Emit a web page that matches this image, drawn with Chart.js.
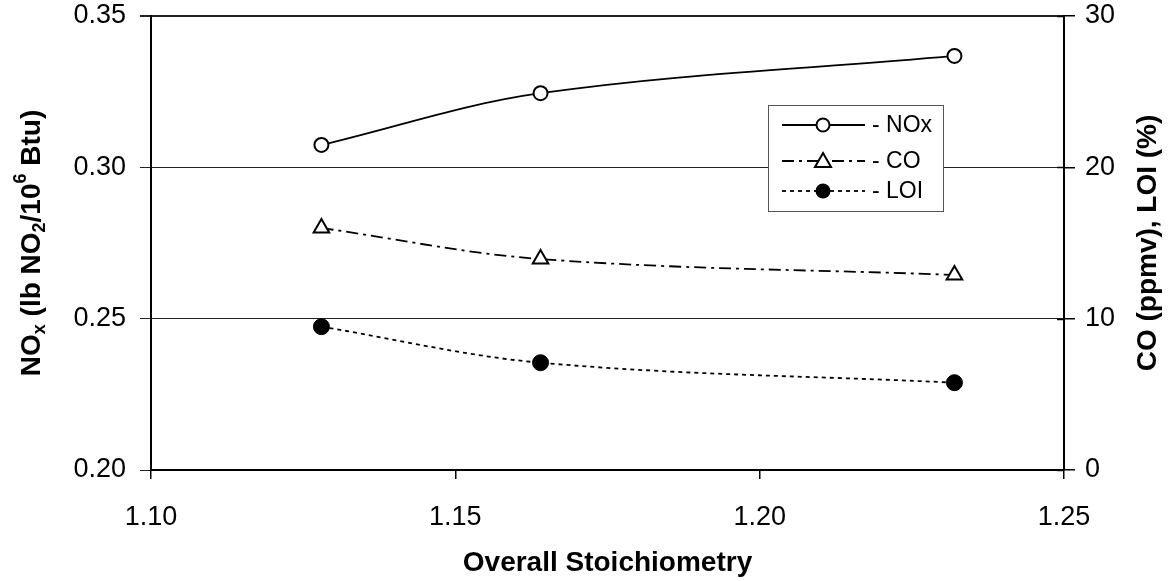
<!DOCTYPE html>
<html>
<head>
<meta charset="utf-8">
<script src="https://cdn.jsdelivr.net/npm/chart.js@4/dist/chart.umd.min.js"></script>
<style>
  html, body { margin: 0; padding: 0; background: #fff; }
  #wrap { width: 1172px; height: 581px; }
</style>
</head>
<body>
<div id="wrap"><canvas id="c" width="1172" height="581"></canvas></div>
<script>
// Overall stoichiometry at each test condition
const stoich = [1.128, 1.164, 1.232];
// NOx emissions, lb NO2 / 10^6 Btu (left axis)
const noxValues = [0.3074, 0.3245, 0.3368];
// CO, ppmv (right axis)
const coValues = [15.99, 13.94, 12.89];
// Loss on ignition, % (right axis)
const loiValues = [9.47, 7.09, 5.77];

const xTicks = [1.10, 1.15, 1.20, 1.25];
const leftTicks = [0.20, 0.25, 0.30, 0.35];
const rightTicks = [0, 10, 20, 30];

const legendLabels = ['- NOx', '- CO', '- LOI'];

const FONT = '"Liberation Sans", Arial, sans-serif';
const TICK_SIZE = 27;
const TITLE_SIZE = 28;

const pts = (xs, ys) => xs.map((x, i) => ({ x: x, y: ys[i] }));

function drawRich(ctx, parts, cx, cy, size) {
  // parts: [text, kind] with kind 'n' | 'sub' | 'sup'
  const fontFor = k => 'bold ' + (k === 'n' ? size : Math.round(size * 0.66)) + 'px ' + FONT;
  let total = 0;
  const widths = parts.map(p => { ctx.font = fontFor(p[1]); const w = ctx.measureText(p[0]).width; total += w; return w; });
  let x = cx - total / 2;
  ctx.textBaseline = 'middle';
  ctx.textAlign = 'left';
  parts.forEach((p, i) => {
    ctx.font = fontFor(p[1]);
    const dy = p[1] === 'sub' ? size * 0.28 : p[1] === 'sup' ? -size * 0.38 : 0;
    ctx.fillText(p[0], x, cy + dy);
    x += widths[i];
  });
}

const noLabelPadding = s => {
  s.paddingTop = 0; s.paddingBottom = 0; s.paddingLeft = 0; s.paddingRight = 0;
};

const decorations = {
  id: 'decorations',
  afterDraw(chart) {
    const ctx = chart.ctx;
    const area = chart.chartArea;
    const y1 = chart.scales.y1;
    ctx.save();
    ctx.fillStyle = '#000';
    ctx.strokeStyle = '#000';

    // inner half of the right-axis tick marks
    ctx.lineWidth = 1.5;
    rightTicks.forEach(v => {
      const py = Math.round(y1.getPixelForValue(v)) + 0.5;
      ctx.beginPath();
      ctx.moveTo(area.right - 7, py);
      ctx.lineTo(area.right, py);
      ctx.stroke();
    });

    // axis titles
    const midY = (area.top + area.bottom) / 2;
    ctx.save();
    ctx.translate(32, midY);
    ctx.rotate(-Math.PI / 2);
    drawRich(ctx, [['NO', 'n'], ['x', 'sub'], [' (lb NO', 'n'], ['2', 'sub'], ['/10', 'n'], ['6', 'sup'], [' Btu)', 'n']], 0, 0, TITLE_SIZE);
    ctx.restore();

    ctx.save();
    ctx.translate(1148, midY);
    ctx.rotate(-Math.PI / 2);
    drawRich(ctx, [['CO (ppmv), LOI (%)', 'n']], 0, 0, TITLE_SIZE);
    ctx.restore();

    drawRich(ctx, [['Overall Stoichiometry', 'n']], (area.left + area.right) / 2, 563, TITLE_SIZE);

    // legend
    const bx = 768, by = 105, bw = 175, bh = 106;
    ctx.fillStyle = '#fff';
    ctx.fillRect(bx, by, bw, bh);
    ctx.strokeStyle = '#555';
    ctx.lineWidth = 1;
    ctx.strokeRect(bx + 0.5, by + 0.5, bw, bh);

    const rows = [125, 161, 191];
    const dashes = [[], [12, 5, 3, 5], [4, 4]];
    ctx.strokeStyle = '#000';
    rows.forEach((ry, i) => {
      ctx.lineWidth = 1.8;
      ctx.setLineDash(dashes[i]);
      ctx.beginPath();
      ctx.moveTo(782, ry);
      ctx.lineTo(865, ry);
      ctx.stroke();
      ctx.setLineDash([]);
      ctx.lineWidth = 2;
      const mx = 823;
      if (i === 0) {
        ctx.beginPath(); ctx.arc(mx, ry, 6.5, 0, Math.PI * 2);
        ctx.fillStyle = '#fff'; ctx.fill(); ctx.stroke();
      } else if (i === 1) {
        ctx.beginPath();
        ctx.moveTo(mx, ry - 8); ctx.lineTo(mx + 8, ry + 6); ctx.lineTo(mx - 8, ry + 6); ctx.closePath();
        ctx.fillStyle = '#fff'; ctx.fill(); ctx.stroke();
      } else {
        ctx.beginPath(); ctx.arc(mx, ry, 7.5, 0, Math.PI * 2);
        ctx.fillStyle = '#000'; ctx.fill();
      }
      ctx.fillStyle = '#000';
      ctx.font = '23px ' + FONT;
      ctx.textAlign = 'left';
      ctx.textBaseline = 'middle';
      ctx.fillText(legendLabels[i], 872, ry + 1);
    });
    ctx.restore();
  }
};

new Chart(document.getElementById('c'), {
  type: 'line',
  data: {
    datasets: [
      {
        label: 'NOx', data: pts(stoich, noxValues), yAxisID: 'y',
        borderColor: '#000', borderWidth: 1.8, tension: 0.35,
        pointStyle: 'circle', pointRadius: 7, pointBorderWidth: 2,
        pointBackgroundColor: '#fff', pointBorderColor: '#000'
      },
      {
        label: 'CO', data: pts(stoich, coValues), yAxisID: 'y1',
        borderColor: '#000', borderWidth: 1.8, borderDash: [12, 5, 3, 5], tension: 0.35,
        pointStyle: 'triangle', pointRadius: 9, pointBorderWidth: 2,
        pointBackgroundColor: '#fff', pointBorderColor: '#000'
      },
      {
        label: 'LOI', data: pts(stoich, loiValues), yAxisID: 'y1',
        borderColor: '#000', borderWidth: 1.8, borderDash: [4, 4], tension: 0.35,
        pointStyle: 'circle', pointRadius: 8, pointBorderWidth: 1,
        pointBackgroundColor: '#000', pointBorderColor: '#000'
      }
    ]
  },
  options: {
    responsive: false,
    animation: false,
    layout: { padding: { top: 16, left: 0, right: 0, bottom: 0 } },
    plugins: { legend: { display: false }, tooltip: { enabled: false } },
    scales: {
      x: {
        type: 'linear', min: 1.10, max: 1.25,
        afterBuildTicks: s => { s.ticks = xTicks.map(v => ({ value: v })); },
        afterFit: s => { s.height = 111; noLabelPadding(s); },
        ticks: {
          color: '#000', padding: 22, maxRotation: 0,
          font: { family: FONT, size: TICK_SIZE },
          callback: v => v.toFixed(2)
        },
        grid: { drawOnChartArea: false, drawTicks: true, tickLength: 9, color: '#000', lineWidth: 1.5 },
        border: { color: '#000', width: 2 }
      },
      y: {
        type: 'linear', position: 'left', min: 0.20, max: 0.35,
        afterBuildTicks: s => { s.ticks = leftTicks.map(v => ({ value: v })); },
        afterFit: s => { s.width = 151; noLabelPadding(s); },
        ticks: {
          color: '#000', padding: 14,
          font: { family: FONT, size: TICK_SIZE },
          callback: v => v.toFixed(2)
        },
        grid: {
          drawTicks: true, tickLength: 11, color: '#222',
          lineWidth: ctx => (ctx.tick && ctx.tick.value === 0.35 ? 2 : 1)
        },
        border: { color: '#000', width: 2 }
      },
      y1: {
        type: 'linear', position: 'right', min: 0, max: 30,
        afterBuildTicks: s => { s.ticks = rightTicks.map(v => ({ value: v })); },
        afterFit: s => { s.width = 108; noLabelPadding(s); },
        ticks: {
          color: '#000', padding: 10,
          font: { family: FONT, size: TICK_SIZE },
          callback: v => String(v)
        },
        grid: { drawOnChartArea: false, drawTicks: true, tickLength: 11, color: '#000', lineWidth: 1.5 },
        border: { color: '#000', width: 2 }
      }
    }
  },
  plugins: [decorations]
});
</script>
</body>
</html>
